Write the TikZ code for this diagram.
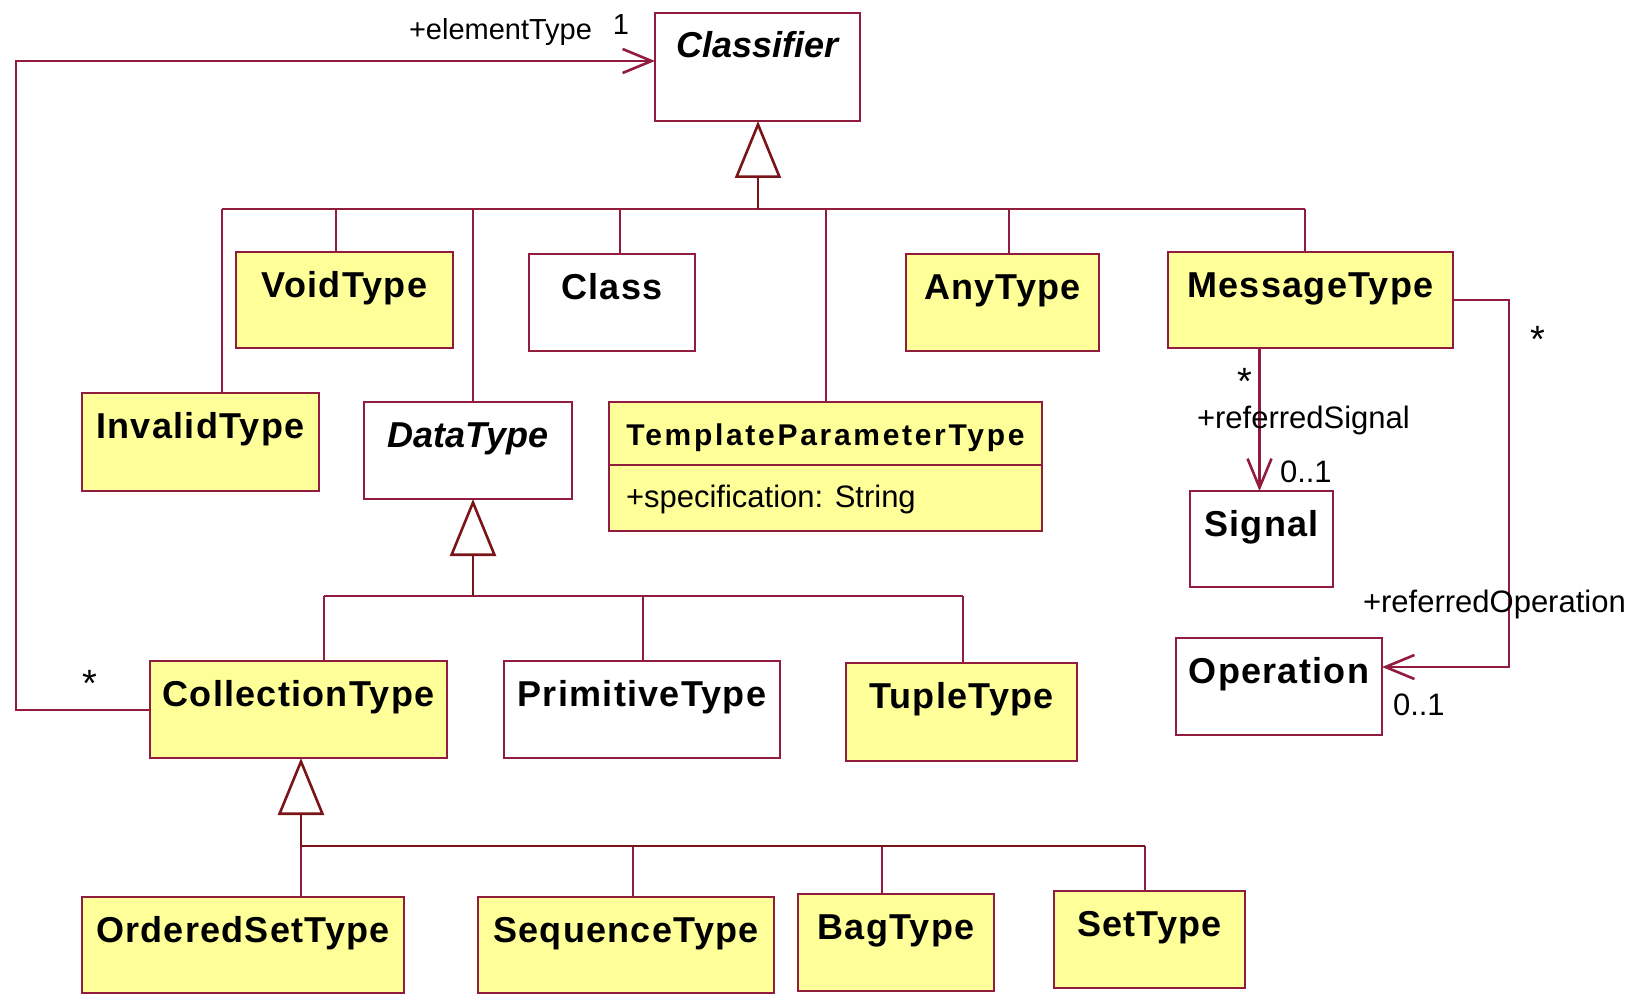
\documentclass[tikz,border=0pt]{standalone}
\usepackage{fontspec}
\setmainfont{Liberation Sans}
\usetikzlibrary{arrows.meta,calc}
\definecolor{umlred}{RGB}{145,28,62}
\definecolor{gendark}{RGB}{122,20,24}
\definecolor{umlyellow}{RGB}{255,255,153}
\tikzset{
  box/.style={draw=umlred, line width=2.6pt, inner sep=0pt, outer sep=0pt},
  title/.style={font=\fontsize{36}{40}\selectfont\bfseries\addfontfeature{LetterSpace=3.5}, inner sep=0pt, outer sep=0pt},
  titleit/.style={font=\fontsize{36}{40}\selectfont\bfseries\itshape, inner sep=0pt, outer sep=0pt},
  lbl/.style={font=\fontsize{31}{34}\selectfont, inner sep=0pt, outer sep=0pt},
  lblsmall/.style={font=\fontsize{29}{32}\selectfont, inner sep=0pt, outer sep=0pt},
  star/.style={font=\fontsize{38}{40}\selectfont, inner sep=0pt, outer sep=0pt},
  gen/.style={draw=umlred, line width=2.6pt},
  stem/.style={draw=gendark, line width=2.6pt, line join=miter, -{Triangle[open,length=57pt,width=46pt]}},
  assoc/.style={draw=umlred, line width=2.6pt, -{Straight Barb[length=29pt,width=24pt]}},
}
% name, x1, y1, x2, y2, fill, text, title style
\newcommand{\cls}[8]{%
  \node[box, fill=#6, minimum width={#4-#2}, minimum height={#5-#3}, anchor=north west] (#1) at (#2,#3) {};
  \node[#8, anchor=base] (#1-t) at ($(#1.north)+(0,45)$) {#7};
}
\newcommand{\dropline}[3]{%
  \coordinate (#1-j) at (#2,#3);
  \draw[gen] (#1-j) -- (#1-j |- #1.north);
}
\begin{document}
\begin{tikzpicture}[x=1pt,y=-1pt]
\useasboundingbox (0,0) rectangle (1635,1003);

% classes
\cls{Classifier}{655}{13}{860}{121}{white}{Classifier}{titleit}
\cls{VoidType}{236}{252}{453}{348}{umlyellow}{VoidType}{title}
\cls{Class}{529}{254}{695}{351}{white}{Class}{title}
\cls{AnyType}{906}{254}{1099}{351}{umlyellow}{AnyType}{title}
\cls{MessageType}{1168}{252}{1453}{348}{umlyellow}{MessageType}{title}
\cls{InvalidType}{82}{393}{319}{491}{umlyellow}{InvalidType}{title}
\cls{DataType}{364}{402}{572}{499}{white}{DataType}{titleit}
\cls{Signal}{1190}{491}{1333}{587}{white}{Signal}{title}
\cls{Operation}{1176}{638}{1382}{735}{white}{Operation}{title}
\cls{CollectionType}{150}{661}{447}{758}{umlyellow}{CollectionType}{title}
\cls{PrimitiveType}{504}{661}{780}{758}{white}{PrimitiveType}{title}
\cls{TupleType}{846}{663}{1077}{761}{umlyellow}{TupleType}{title}
\cls{OrderedSetType}{82}{897}{404}{993}{umlyellow}{OrderedSetType}{title}
\cls{SequenceType}{478}{897}{774}{993}{umlyellow}{SequenceType}{title}
\cls{BagType}{798}{894}{994}{991}{umlyellow}{BagType}{title}
\cls{SetType}{1054}{891}{1245}{988}{umlyellow}{SetType}{title}

% TemplateParameterType with attribute compartment
\node[box, fill=umlyellow, minimum width=433, minimum height=129, anchor=north west] (TPT) at (609,402) {};
\node[inner sep=0pt, outer sep=0pt, font=\fontsize{30}{34}\selectfont\bfseries\addfontfeature{LetterSpace=9}, anchor=base] (TPT-t) at ($(TPT.north)+(0,43)$) {TemplateParameterType};
\coordinate (tptdiv) at (0,465);
\draw[box] (TPT.west |- tptdiv) -- (TPT.east |- tptdiv);
\node[lbl, anchor=base west] (TPT-a) at (626,507) {+specification: String};

% generalization to Classifier
\coordinate (g1) at (758,209);
\dropline{InvalidType}{222}{209}
\dropline{VoidType}{336}{209}
\dropline{DataType}{473}{209}
\dropline{Class}{620}{209}
\dropline{TPT}{826}{209}
\dropline{AnyType}{1009}{209}
\dropline{MessageType}{1305}{209}
\draw[gen] (InvalidType-j) -- (MessageType-j);
\draw[stem] (g1) -- (g1 |- Classifier.south);

% generalization to DataType
\coordinate (g2) at (473,596);
\dropline{CollectionType}{324}{596}
\dropline{PrimitiveType}{643}{596}
\dropline{TupleType}{963}{596}
\draw[gen] (CollectionType-j) -- (TupleType-j);
\draw[stem] (g2) -- (g2 |- DataType.south);

% generalization to CollectionType
\coordinate (g3) at (301,846);
\dropline{OrderedSetType}{301}{846}
\dropline{SequenceType}{633}{846}
\dropline{BagType}{882}{846}
\dropline{SetType}{1145}{846}
\draw[gen, draw=gendark] (OrderedSetType-j) -- (SetType-j);
\draw[stem] (g3) -- (g3 |- CollectionType.south);

% elementType association
\coordinate (e1) at (16,710);
\coordinate (e2) at (16,61);
\draw[assoc] (CollectionType.west |- e1) -- (e1) -- (e2) -- (e2 -| Classifier.west);
\node[lblsmall, anchor=base east] (etl) at (592,40) {+elementType};
\node[lblsmall, anchor=base] (etm) at (621,35) {1};
\node[star, anchor=base] (ets) at (90,696) {*};

% referredSignal
\coordinate (s1) at (1259.5,0);
\draw[assoc] (MessageType.south -| s1) -- (Signal.north -| s1);
\node[star, anchor=base] (rss) at (1245,394) {*};
\node[lbl, anchor=base west] (rsl) at (1197,428) {+referredSignal};
\node[lbl, anchor=base west] (rsm) at (1280,482) {0..1};

% referredOperation
\coordinate (o1) at (1509,300);
\coordinate (o2) at (1509,667);
\draw[assoc] (MessageType.east |- o1) -- (o1) -- (o2) -- (Operation.east |- o2);
\node[star, anchor=base] (ros) at (1538,352) {*};
\node[lbl, anchor=base west] (rol) at (1363,612) {+referredOperation};
\node[lbl, anchor=base west] (rom) at (1393,715) {0..1};
\end{tikzpicture}
\end{document}
